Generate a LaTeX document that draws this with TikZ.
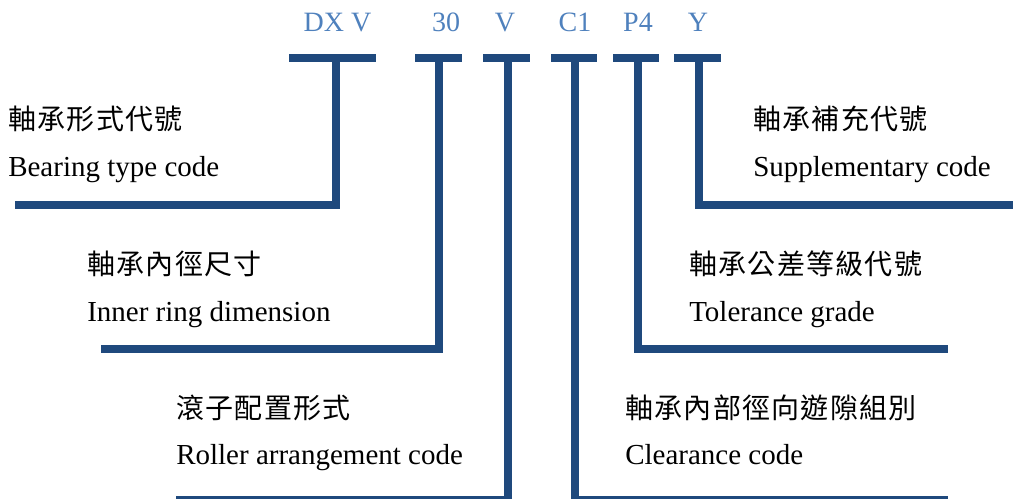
\documentclass[tikz,border=0pt]{standalone}
\usepackage{fontspec}
\setmainfont{Liberation Serif}
\newfontfamily\cjk[LetterSpace=4.5]{Noto Sans CJK TC}
\definecolor{barblue}{RGB}{31,73,125}
\definecolor{codeblue}{RGB}{79,129,189}
\tikzset{
  bar/.style={draw=barblue, line width=6pt, line cap=butt, line join=miter},
  codelbl/.style={text=codeblue, inner sep=0pt, anchor=base, font=\fontsize{21pt}{25pt}\selectfont},
  zhlbl/.style={inner sep=0pt, anchor=base west, font=\cjk\fontsize{21pt}{25pt}\selectfont},
  enlbl/.style={inner sep=0pt, anchor=base west, font=\fontsize{21.75pt}{26pt}\selectfont}
}
\begin{document}
\begin{tikzpicture}[x=0.75pt,y=-0.75pt]
\useasboundingbox (0,0) rectangle (1013,499);
% code labels
\node[codelbl] (cDX) at (337.5,32) {DX V};
\node[codelbl] (c30) at (446,32) {30};
\node[codelbl] (cV)  at (505,32) {V};
\node[codelbl] (cC1) at (575,32) {C1};
\node[codelbl] (cP4) at (638,32) {P4};
\node[codelbl] (cY)  at (698,32) {Y};
% coordinates of connectors
\coordinate (dxL) at (289,58); \coordinate (dxR) at (376,58);
\coordinate (dxT) at (336,58); \coordinate (dxC) at (336,205); \coordinate (dxE) at (15,205);
\coordinate (tL) at (415,58); \coordinate (tR) at (462,58);
\coordinate (tT) at (439,58); \coordinate (tC) at (439,349); \coordinate (tE) at (101,349);
\coordinate (vL) at (483,58); \coordinate (vR) at (530,58);
\coordinate (vT) at (507.5,58); \coordinate (vC) at (507.5,500); \coordinate (vE) at (176,500);
\coordinate (cL) at (551,58); \coordinate (cR) at (597,58);
\coordinate (cT) at (574.5,58); \coordinate (cC) at (574.5,500); \coordinate (cE) at (948,500);
\coordinate (pL) at (613,58); \coordinate (pR) at (659,58);
\coordinate (pT) at (637.5,58); \coordinate (pC) at (637.5,349); \coordinate (pE) at (948,349);
\coordinate (yL) at (674,58); \coordinate (yR) at (721,58);
\coordinate (yT) at (698.5,58); \coordinate (yC) at (698.5,205); \coordinate (yE) at (1020,205);
% connectors
\draw[bar] (dxL) -- (dxR); \draw[bar] (dxT) -- (dxC) -- (dxE);
\draw[bar] (tL) -- (tR);   \draw[bar] (tT) -- (tC) -- (tE);
\draw[bar] (vL) -- (vR);   \draw[bar] (vT) -- (vC) -- (vE);
\draw[bar] (cL) -- (cR);   \draw[bar] (cT) -- (cC) -- (cE);
\draw[bar] (pL) -- (pR);   \draw[bar] (pT) -- (pC) -- (pE);
\draw[bar] (yL) -- (yR);   \draw[bar] (yT) -- (yC) -- (yE);
% descriptions
\node[zhlbl] (zDX) at (8,130) {軸承形式代號};
\node[enlbl] (eDX) at (8,176) {Bearing type code};
\node[zhlbl] (z30) at (87,274) {軸承內徑尺寸};
\node[enlbl] (e30) at (87,321) {Inner ring dimension};
\node[zhlbl] (zV) at (176,418) {滾子配置形式};
\node[enlbl] (eV) at (176,464) {Roller arrangement code};
\node[zhlbl] (zY) at (753,130) {軸承補充代號};
\node[enlbl] (eY) at (753,176) {Supplementary code};
\node[zhlbl] (zP) at (689,274) {軸承公差等級代號};
\node[enlbl] (eP) at (689,321) {Tolerance grade};
\node[zhlbl] (zC) at (625,418) {軸承內部徑向遊隙組別};
\node[enlbl] (eC) at (625,464) {Clearance code};
\end{tikzpicture}
\end{document}
